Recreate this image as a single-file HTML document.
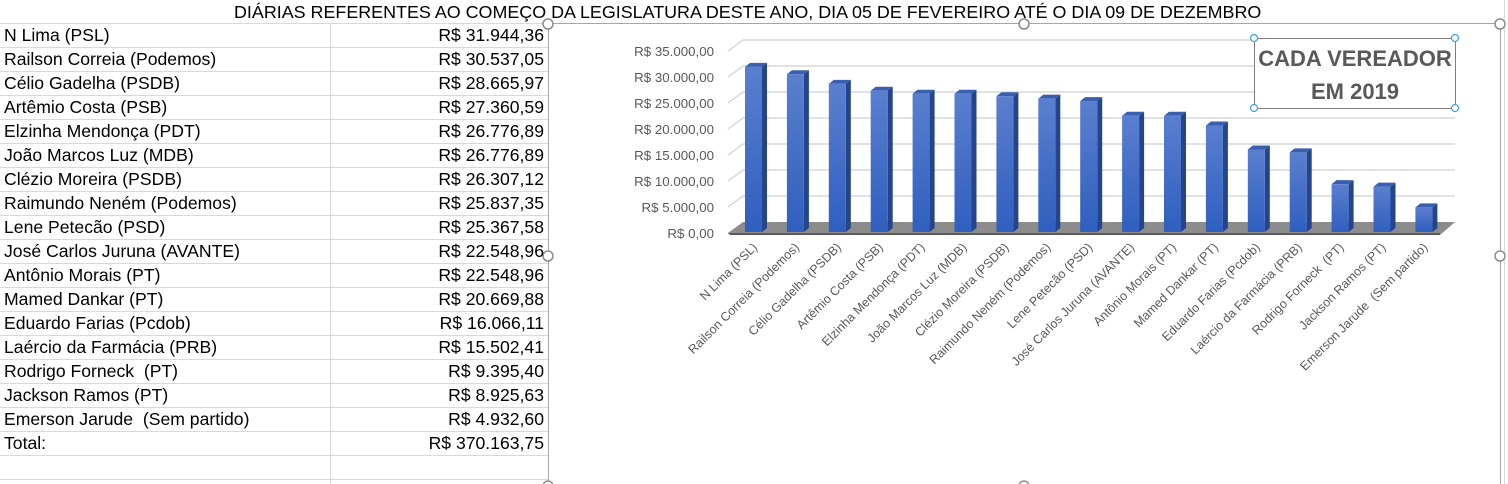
<!DOCTYPE html>
<html><head><meta charset="utf-8"><style>
body{margin:0;width:1508px;height:484px;overflow:hidden;background:#fff;font-family:"Liberation Sans",sans-serif;position:relative}
.t{position:absolute;font-size:17.6px;color:#000;white-space:nowrap}
</style></head><body>
<svg width="1508" height="484" style="position:absolute;left:0;top:0" xmlns="http://www.w3.org/2000/svg">
<defs>
<linearGradient id="bf" x1="0" y1="0" x2="0" y2="1"><stop offset="0" stop-color="#5a7fcf"/><stop offset="1" stop-color="#2f5fbf"/></linearGradient>
</defs>
<g stroke="#d9d9d9" stroke-width="1">
<line x1="0" y1="23.5" x2="548" y2="23.5"/>
<line x1="0" y1="47.5" x2="548" y2="47.5"/><line x1="0" y1="71.5" x2="548" y2="71.5"/><line x1="0" y1="95.5" x2="548" y2="95.5"/><line x1="0" y1="119.5" x2="548" y2="119.5"/><line x1="0" y1="143.5" x2="548" y2="143.5"/><line x1="0" y1="167.5" x2="548" y2="167.5"/><line x1="0" y1="191.5" x2="548" y2="191.5"/><line x1="0" y1="215.5" x2="548" y2="215.5"/><line x1="0" y1="239.5" x2="548" y2="239.5"/><line x1="0" y1="263.5" x2="548" y2="263.5"/><line x1="0" y1="287.5" x2="548" y2="287.5"/><line x1="0" y1="311.5" x2="548" y2="311.5"/><line x1="0" y1="335.5" x2="548" y2="335.5"/><line x1="0" y1="359.5" x2="548" y2="359.5"/><line x1="0" y1="383.5" x2="548" y2="383.5"/><line x1="0" y1="407.5" x2="548" y2="407.5"/><line x1="0" y1="431.5" x2="548" y2="431.5"/><line x1="0" y1="455.5" x2="548" y2="455.5"/><line x1="0" y1="479.5" x2="548" y2="479.5"/>
<line x1="330.5" y1="23" x2="330.5" y2="484"/>
<line x1="1504.5" y1="0" x2="1504.5" y2="484"/>
</g>
<rect x="548.5" y="23.5" width="952" height="470" fill="#fff" stroke="#a6a6a6"/>
<g stroke="#d9d9d9" stroke-width="1.5" fill="none">
<polyline points="728,51 743,40 1455,40"/><polyline points="728,77 743,66 1455,66"/><polyline points="728,103 743,92 1455,92"/><polyline points="728,129 743,118 1455,118"/><polyline points="728,155 743,144 1455,144"/><polyline points="728,181 743,170 1455,170"/><polyline points="728,207 743,196 1455,196"/>
</g>
<polygon points="728,233 743,222 1455,222 1440,235 730,235" fill="#8c8c8c"/>
<polygon points="728,233 1440,233 1440,235 730,235" fill="#5a5a5a"/>
<g font-family="Liberation Sans" font-size="13.3" fill="#595959" text-anchor="end">
<text x="714" y="56">R$ 35.000,00</text><text x="714" y="82">R$ 30.000,00</text><text x="714" y="108">R$ 25.000,00</text><text x="714" y="134">R$ 20.000,00</text><text x="714" y="160">R$ 15.000,00</text><text x="714" y="186">R$ 10.000,00</text><text x="714" y="212">R$ 5.000,00</text><text x="714" y="238">R$ 0,00</text>
</g>
<g id="bars"></g>
<g id="labels" font-family="Liberation Sans" font-size="12.5" fill="#595959" text-anchor="end"></g>
<rect x="1254.5" y="38.5" width="201" height="70" fill="#fff" stroke="#7f7f7f"/>
<g fill="#fff" stroke="#41a0e6" stroke-width="1.2"><circle cx="1254" cy="38" r="3.5"/><circle cx="1455" cy="38" r="3.5"/><circle cx="1254" cy="108" r="3.5"/><circle cx="1455" cy="108" r="3.5"/></g>
<text x="1355" y="66" text-anchor="middle" font-family="Liberation Sans" font-weight="bold" font-size="22" fill="#595959">CADA VEREADOR</text>
<text x="1355" y="99" text-anchor="middle" font-family="Liberation Sans" font-weight="bold" font-size="22" fill="#595959">EM 2019</text>
<g fill="#fff" stroke="#8c8c8c" stroke-width="1.5"><circle cx="548" cy="24" r="5"/><circle cx="1024" cy="24" r="5"/><circle cx="1500" cy="24" r="5"/><circle cx="548" cy="256" r="5"/><circle cx="1500" cy="256" r="5"/><circle cx="548" cy="486" r="5"/><circle cx="1024" cy="486" r="5"/></g>
</svg>
<div class="t" style="left:234px;top:2px;font-size:17.9px">DIÁRIAS REFERENTES AO COMEÇO DA LEGISLATURA DESTE ANO, DIA 05 DE FEVEREIRO ATÉ O DIA 09 DE DEZEMBRO</div>
<div id="tbl"></div>
<script>
var d=[["N Lima (PSL)","R$ 31.944,36",31944.36],["Railson Correia (Podemos)","R$ 30.537,05",30537.05],["Célio Gadelha (PSDB)","R$ 28.665,97",28665.97],["Artêmio Costa (PSB)","R$ 27.360,59",27360.59],["Elzinha Mendonça (PDT)","R$ 26.776,89",26776.89],["João Marcos Luz (MDB)","R$ 26.776,89",26776.89],["Clézio Moreira (PSDB)","R$ 26.307,12",26307.12],["Raimundo Neném (Podemos)","R$ 25.837,35",25837.35],["Lene Petecão (PSD)","R$ 25.367,58",25367.58],["José Carlos Juruna (AVANTE)","R$ 22.548,96",22548.96],["Antônio Morais (PT)","R$ 22.548,96",22548.96],["Mamed Dankar (PT)","R$ 20.669,88",20669.88],["Eduardo Farias (Pcdob)","R$ 16.066,11",16066.11],["Laércio da Farmácia (PRB)","R$ 15.502,41",15502.41],["Rodrigo Forneck  (PT)","R$ 9.395,40",9395.40],["Jackson Ramos (PT)","R$ 8.925,63",8925.63],["Emerson Jarude  (Sem partido)","R$ 4.932,60",4932.60]];
var h="";
d.forEach(function(r,i){var y=25+i*24;h+='<div class="t" style="left:4px;top:'+y+'px">'+r[0].replace(/  /g," &nbsp;")+'</div><div class="t" style="right:964px;top:'+y+'px">'+r[1]+'</div>';});
h+='<div class="t" style="left:4px;top:433px">Total:</div><div class="t" style="right:964px;top:433px">R$ 370.163,75</div>';
document.getElementById("tbl").innerHTML=h;
var b="",l="";
d.forEach(function(r,i){var x=745+i*41.9,top=233-r[2]*26/5000;
b+='<polygon points="'+x+','+top+' '+(x+5)+','+(top-4)+' '+(x+22)+','+(top-4)+' '+(x+17)+','+top+'" fill="#3a5fae"/>';
b+='<polygon points="'+(x+17)+','+top+' '+(x+22)+','+(top-4)+' '+(x+22)+','+228+' '+(x+17)+','+232+'" fill="#24448c"/>';
b+='<rect x="'+x+'" y="'+top+'" width="17" height="'+(232-top)+'" fill="url(#bf)"/>';
var cx=x+13,cy=248;
l+='<text transform="translate('+cx+','+cy+') rotate(-45)">'+r[0].replace(/  /g," \u00a0")+'</text>';});
document.getElementById("bars").innerHTML=b;
document.getElementById("labels").innerHTML=l;
</script>
</body></html>
